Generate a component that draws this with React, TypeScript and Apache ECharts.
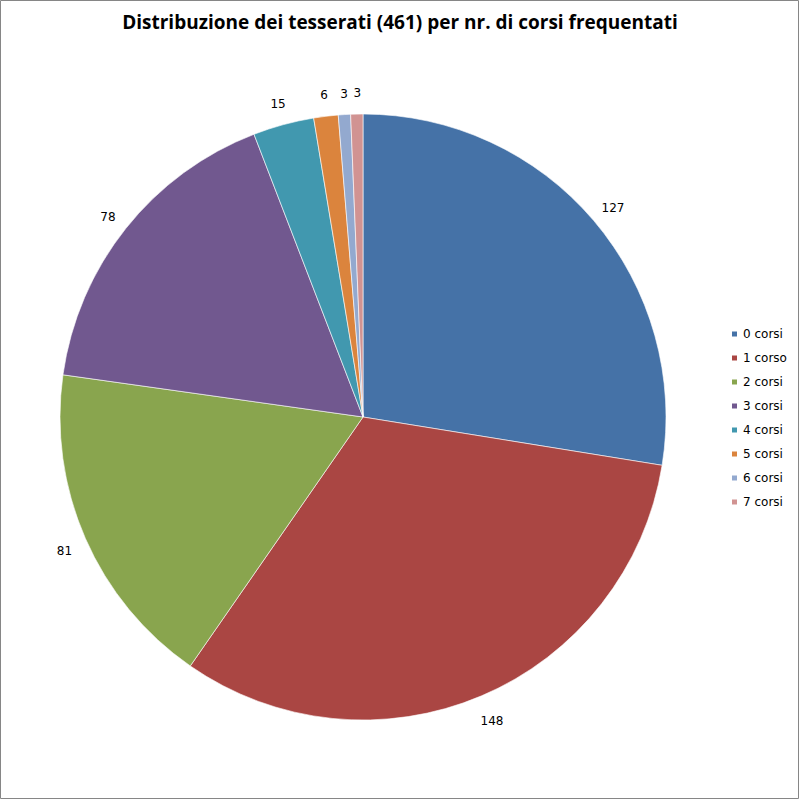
import React, { useEffect, useRef } from "react";
import * as echarts from "echarts";

const categories = ["0 corsi", "1 corso", "2 corsi", "3 corsi", "4 corsi", "5 corsi", "6 corsi", "7 corsi"];
const values = [127, 148, 81, 78, 15, 6, 3, 3];
const colors = ["#4572A7", "#AA4643", "#89A54E", "#71588F", "#4198AF", "#DB843D", "#93A9CF", "#D19392"];
const title = "Distribuzione dei tesserati (461) per nr. di corsi frequentati";

export default function App() {
  const ref = useRef<HTMLDivElement>(null);
  useEffect(() => {
    if (!ref.current) return;
    const chart = echarts.init(ref.current, undefined, { renderer: "svg" });
    const data = categories.map((c, i) => ({ name: c, value: values[i], itemStyle: { color: colors[i] } }));
    chart.setOption({
      animation: false,
      backgroundColor: "#ffffff",
      title: {
        text: title,
        left: "center",
        top: 7,
        textStyle: { fontFamily: "Open Sans", fontWeight: "bold", fontSize: 19, color: "#000" },
      },
      legend: {
        orient: "vertical",
        left: 725,
        top: 322,
        itemWidth: 7,
        itemHeight: 7,
        itemGap: 10,
        icon: "rect",
        selectedMode: false,
        data: categories.map((c, i) => ({ name: c, itemStyle: { color: colors[i] } })),
        textStyle: { fontFamily: "DejaVu Sans", fontSize: 12, color: "#000", lineHeight: 14 },
      },
      graphic: [
        {
          type: "rect",
          shape: { x: 0.5, y: 0.5, width: 798, height: 798 },
          style: { fill: "none", stroke: "#868686", lineWidth: 1 },
          silent: true,
        },
      ],
      series: [
        {
          type: "pie",
          center: [363, 417],
          radius: [0, 303],
          startAngle: 90,
          clockwise: true,
          data,
          label: { show: false },
          labelLine: { show: false },
          itemStyle: { borderColor: "#ffffff", borderWidth: 0.6 },
          emphasis: { disabled: true },
          silent: true,
        },
        {
          type: "pie",
          center: [364, 420],
          radius: [314, 334],
          startAngle: 90,
          clockwise: true,
          data: categories.map((c, i) => ({ name: c, value: values[i] })),
          itemStyle: { color: "rgba(0,0,0,0)" },
          label: {
            show: true,
            position: "inside",
            formatter: "{c}",
            fontFamily: "DejaVu Sans",
            fontSize: 12,
            color: "#000",
          },
          labelLine: { show: false },
          emphasis: { disabled: true },
          silent: true,
        },
      ],
    });
    return () => chart.dispose();
  }, []);
  return <div ref={ref} style={{ position: "fixed", left: 0, top: 0, width: 800, height: 800 }} />;
}
